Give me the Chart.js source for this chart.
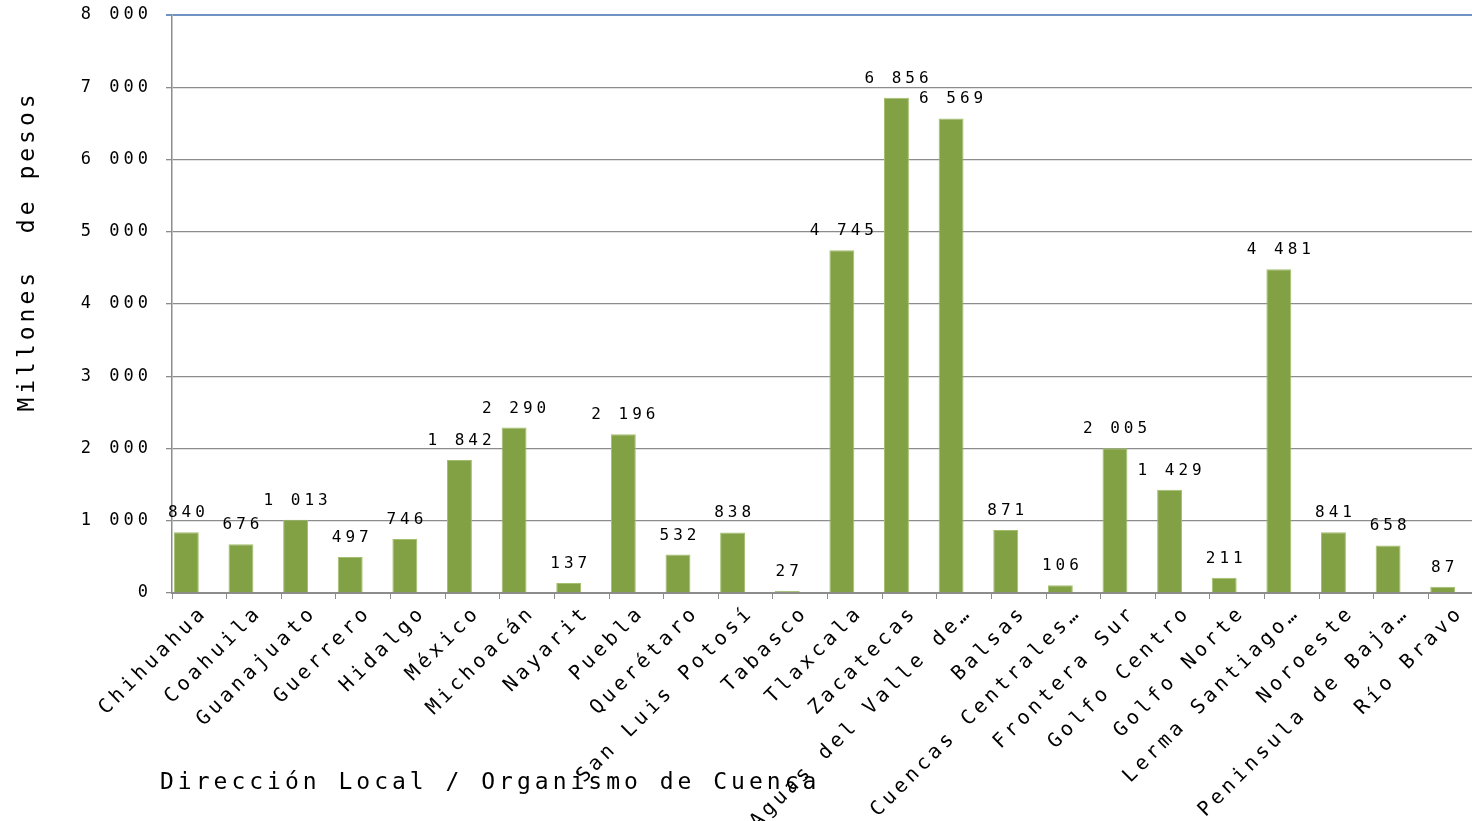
<!DOCTYPE html>
<html>
<head>
<meta charset="utf-8">
<script src="https://cdn.jsdelivr.net/npm/chart.js@4.4.1/dist/chart.umd.min.js"></script>
<style>
  html, body { margin: 0; padding: 0; background: #fff; overflow: hidden; }
  #wrap { width: 1490px; height: 821px; }
</style>
</head>
<body>
<div id="wrap"><canvas id="chart"></canvas></div>
<script>
// Datos
const categories = [
  'Chihuahua', 'Coahuila', 'Guanajuato', 'Guerrero', 'Hidalgo', 'México',
  'Michoacán', 'Nayarit', 'Puebla', 'Querétaro', 'San Luis Potosí', 'Tabasco',
  'Tlaxcala', 'Zacatecas', 'Aguas del Valle de…', 'Balsas', 'Cuencas Centrales…',
  'Frontera Sur', 'Golfo Centro', 'Golfo Norte', 'Lerma Santiago…', 'Noroeste',
  'Peninsula de Baja…', 'Río Bravo'
];
const values = [840, 676, 1013, 497, 746, 1842, 2290, 137, 2196, 532, 838, 27,
  4745, 6856, 6569, 871, 106, 2005, 1429, 211, 4481, 841, 658, 87];
const yTicks = [0, 1000, 2000, 3000, 4000, 5000, 6000, 7000, 8000];
const yTitle = 'Millones  de pesos';
const xTitle = 'Dirección Local / Organismo de Cuenca';

const FONT = "'DejaVu Sans Mono', monospace";
const fmt = v => String(v).replace(/\B(?=(\d{3})+(?!\d))/g, ' ');

// Espaciado de letras para todo el texto del canvas
const spacingPlugin = {
  id: 'spacing',
  beforeLayout(chart) { chart.ctx.letterSpacing = '4px'; },
  beforeDraw(chart) { chart.ctx.letterSpacing = '4px'; }
};

// Etiquetas de datos y títulos de ejes
const labelsPlugin = {
  id: 'labels',
  afterDatasetsDraw(chart) {
    const ctx = chart.ctx;
    const meta = chart.getDatasetMeta(0);
    ctx.save();
    ctx.letterSpacing = '4px';
    ctx.font = '16px ' + FONT;
    ctx.fillStyle = '#000';
    ctx.textAlign = 'center';
    ctx.textBaseline = 'alphabetic';
    meta.data.forEach((bar, i) => {
      ctx.fillText(fmt(values[i]), bar.x + 2, bar.y - 15);
    });
    ctx.restore();
  },
  afterDraw(chart) {
    const ctx = chart.ctx;
    ctx.save();
    ctx.letterSpacing = '4px';
    ctx.font = '23px ' + FONT;
    ctx.fillStyle = '#000';
    ctx.textBaseline = 'middle';
    ctx.textAlign = 'left';
    ctx.fillText(xTitle, 160, 783);
    ctx.translate(28, 251);
    ctx.rotate(-Math.PI / 2);
    ctx.textAlign = 'center';
    ctx.fillText(yTitle, 0, 0);
    ctx.restore();
  }
};

new Chart(document.getElementById('chart'), {
  type: 'bar',
  data: {
    labels: categories,
    datasets: [
      {
        data: values,
        backgroundColor: '#82a044',
        borderColor: '#a3bf6e',
        borderWidth: 1,
        barPercentage: 0.96,
        categoryPercentage: 0.95
      },
      {
        data: categories.map(() => null),
        backgroundColor: '#82a044',
        barPercentage: 0.96,
        categoryPercentage: 0.95
      }
    ]
  },
  options: {
    responsive: true,
    maintainAspectRatio: false,
    animation: false,
    layout: { padding: { top: 15, right: 7, left: 0, bottom: 0 } },
    plugins: {
      legend: { display: false },
      tooltip: { enabled: false }
    },
    scales: {
      x: {
        afterFit: s => { s.height = 228; s.paddingLeft = 0; s.paddingRight = 0; },
        grid: {
          offset: true,
          drawOnChartArea: false,
          color: '#8c8c8c',
          tickLength: 6
        },
        border: { color: '#8c8c8c', width: 2 },
        ticks: {
          autoSkip: false,
          maxRotation: 45,
          minRotation: 45,
          labelOffset: 5,
          padding: 2,
          color: '#000',
          font: { family: FONT, size: 20 }
        }
      },
      y: {
        min: 0,
        max: 8000,
        afterFit: s => { s.width = 172; s.paddingTop = 0; s.paddingBottom = 0; },
        afterBuildTicks: s => { s.ticks = yTicks.map(v => ({ value: v })); },
        grid: {
          color: c => c.tick && c.tick.value === 8000 ? '#6f93c4' : '#8c8c8c',
          lineWidth: c => c.tick && c.tick.value === 8000 ? 2 : 1.3,
          tickLength: 6
        },
        border: { color: '#8c8c8c', width: 1.5 },
        ticks: {
          padding: 14,
          color: '#000',
          font: { family: FONT, size: 17 },
          callback: v => fmt(v)
        }
      }
    }
  },
  plugins: [spacingPlugin, labelsPlugin]
});
</script>
</body>
</html>
